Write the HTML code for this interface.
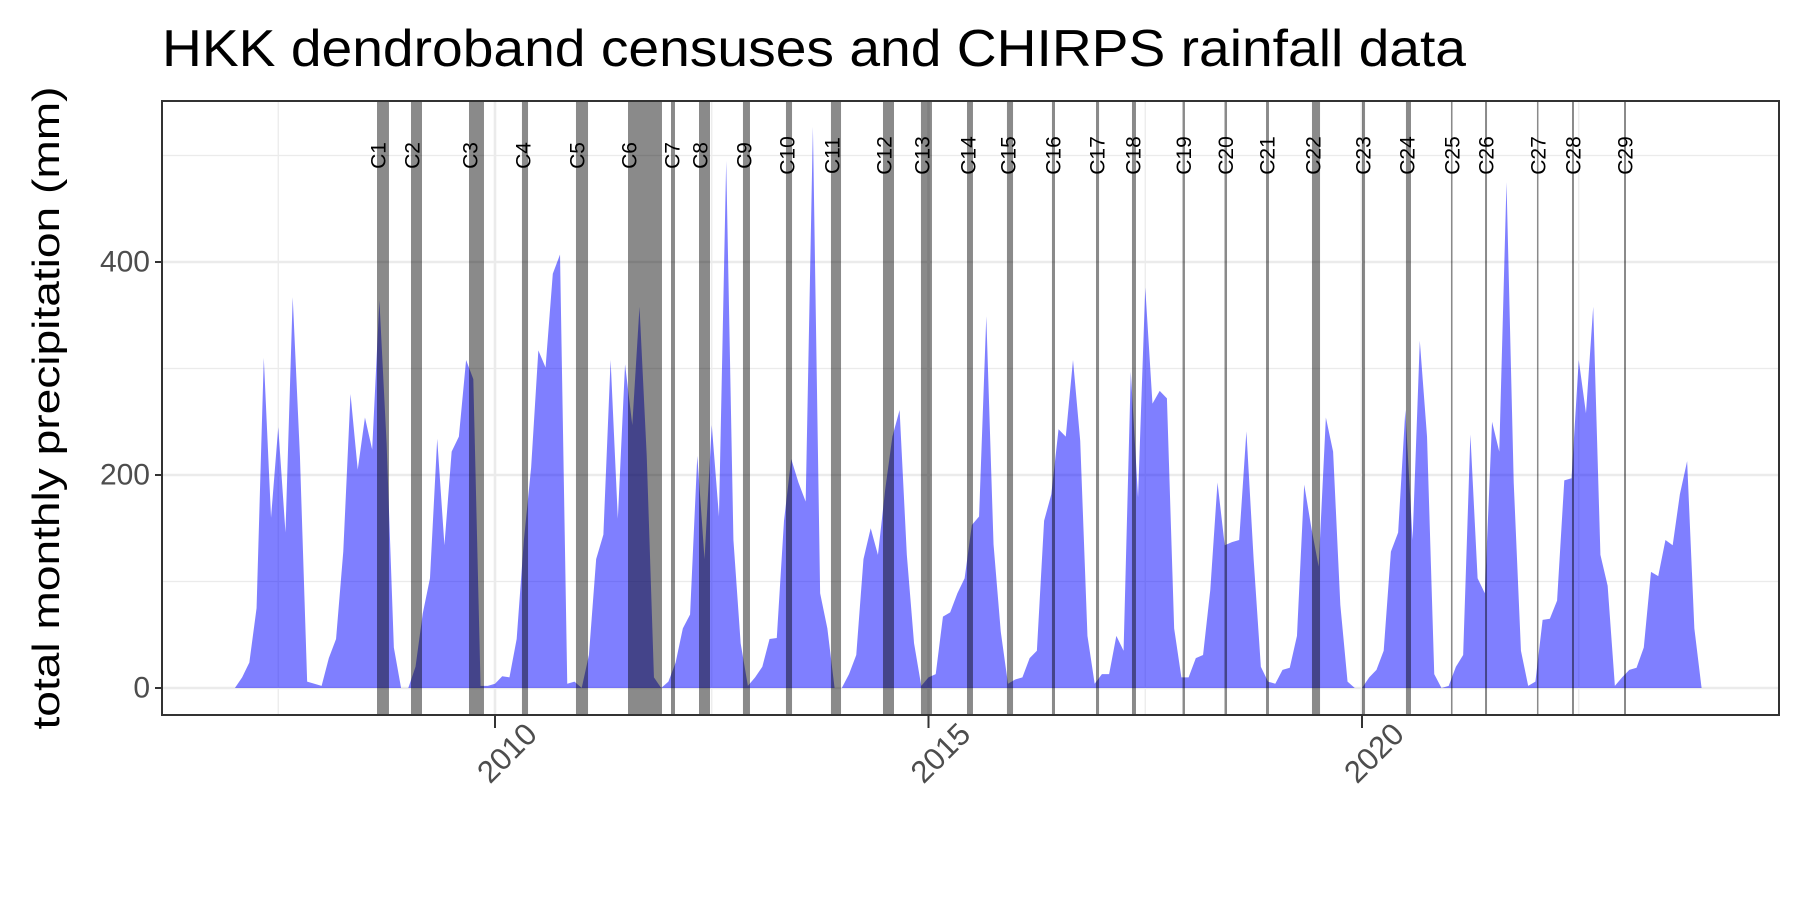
<!DOCTYPE html>
<html><head><meta charset="utf-8"><style>
html,body{margin:0;padding:0;background:#fff;}
svg{display:block;font-family:"Liberation Sans",Arial,sans-serif;}
</style></head><body>
<svg id="chart" width="1800" height="900" viewBox="0 0 1800 900">
<text x="162" y="66" font-size="52" textLength="1304" lengthAdjust="spacingAndGlyphs" fill="#000">HKK dendroband censuses and CHIRPS rainfall data</text>
<text transform="translate(59,408) rotate(-90)" text-anchor="middle" font-size="38" textLength="643" lengthAdjust="spacingAndGlyphs" fill="#000">total monthly precipitation (mm)</text>
<g id="grid"></g>
<g id="area"></g>
<g id="bars"></g>
<g id="labels"></g>
<rect x="162" y="101" width="1617" height="614" fill="none" stroke="#333" stroke-width="2"/>
<g id="axes"></g>
</svg>
<script>
const startYear = 2007;
const rainfall = [0,10,24,75,310,160,245,146,367,218,6,4,
2,28,46,128,276,205,254,224,364,229,38,0,
0,20,70,103,234,134,222,236,308,290,2,2,
4,11,10,46,139,207,317,301,389,407,4,6,
0,31,121,144,308,159,304,247,358,218,10,0,
6,24,56,69,218,121,247,161,495,139,42,2,
10,20,46,47,157,215,193,175,527,89,56,0,
0,13,31,121,150,125,186,236,261,125,42,2,
10,13,67,71,89,103,153,161,349,135,53,4,
8,10,28,35,157,182,243,236,308,232,49,4,
13,13,49,35,297,179,376,267,279,272,56,10,
10,28,31,92,193,134,137,139,241,121,20,6,
4,17,19,49,191,150,114,254,222,78,6,0,
0,10,17,35,128,146,261,139,326,236,13,0,
2,20,31,238,103,89,250,222,475,193,35,2,
6,64,65,82,195,197,308,258,358,125,96,2,
10,17,19,38,109,105,139,134,182,213,56,0];
const censusNames = ["C1","C2","C3","C4","C5","C6","C7","C8","C9","C10","C11","C12","C13","C14","C15","C16","C17","C18","C19","C20","C21","C22","C23","C24","C25","C26","C27","C28","C29"];
const censusStart = [2008.639,2009.031,2009.700,2010.311,2010.934,2011.534,2012.030,2012.353,2012.860,2013.356,2013.875,2014.475,2014.913,2015.444,2015.905,2016.424,2016.932,2017.347,2017.930,2018.414,2018.893,2019.423,2020.000,2020.507,2021.026,2021.419,2022.018,2022.422,2023.022];
const censusEnd = [2008.777,2009.158,2009.873,2010.381,2011.073,2011.926,2012.076,2012.480,2012.941,2013.426,2013.991,2014.602,2015.040,2015.513,2015.975,2016.459,2016.967,2017.393,2017.958,2018.443,2018.927,2019.516,2020.035,2020.565,2021.044,2021.442,2022.030,2022.445,2023.045];
const yTicks = [0,200,400];
const yMinor = [100,300,500];
const xTicks = [2010,2015,2020];
const xMinor = [2007.5,2012.5,2017.5,2022.5];
const labelValue = 500;

const NS="http://www.w3.org/2000/svg";
function X(t){return 495+(t-2010)*86.7;}
function Y(v){return 688-v*1.065;}
function mk(tag,parent,attrs){const e=document.createElementNS(NS,tag);for(const k in attrs)e.setAttribute(k,attrs[k]);parent.appendChild(e);return e;}
const grid=document.getElementById('grid');
yMinor.forEach(v=>{const l=mk('line',grid,{x1:162,x2:1779,y1:Y(v),y2:Y(v),stroke:'#ebebeb','stroke-width':1.3});

});
xMinor.forEach(t=>{const l=mk('line',grid,{x1:X(t),x2:X(t),y1:101,y2:715,stroke:'#ebebeb','stroke-width':1.3});

});
yTicks.forEach(v=>{const l=mk('line',grid,{x1:162,x2:1779,y1:Y(v),y2:Y(v),stroke:'#ebebeb','stroke-width':2.6});

});
xTicks.forEach(t=>{const l=mk('line',grid,{x1:X(t),x2:X(t),y1:101,y2:715,stroke:'#ebebeb','stroke-width':2.6});

});

const area=document.getElementById('area');
let d='M'+X(startYear)+','+Y(0);
rainfall.forEach((v,i)=>{d+=' L'+X(startYear+i/12).toFixed(2)+','+Y(v).toFixed(2);});
d+=' L'+X(startYear+(rainfall.length-1)/12).toFixed(2)+','+Y(0)+' Z';
const p=mk('path',area,{d:d,fill:'#0000ff','fill-opacity':0.5});



const bars=document.getElementById('bars');
const labels=document.getElementById('labels');
censusNames.forEach((n,i)=>{
 const x0=X(censusStart[i]),x1=X(censusEnd[i]);
 const r=mk('rect',bars,{x:x0,y:101,width:Math.max(1.5,x1-x0),height:614,fill:'#000','fill-opacity':0.46});
 
 
 const t=mk('text',labels,{transform:'translate('+(x0+2)+','+Y(labelValue)+') rotate(-90)','text-anchor':'middle','dominant-baseline':'central','font-size':21,fill:'#000'});
 t.textContent=n;
 
 
});

const axes=document.getElementById('axes');
yTicks.forEach(v=>{
 const l=mk('line',axes,{x1:155,x2:162,y1:Y(v),y2:Y(v),stroke:'#333','stroke-width':2});
 
 
 const t=mk('text',axes,{x:150,y:Y(v),'text-anchor':'end','dominant-baseline':'central','font-size':30,fill:'#4d4d4d'});
 t.textContent=v;
 
 
});
xTicks.forEach(tk=>{
 const x=X(tk);
 const l=mk('line',axes,{x1:x,x2:x,y1:715,y2:728,stroke:'#333','stroke-width':2});
 
 
 const t=mk('text',axes,{transform:'translate('+(x+12)+',753) rotate(-45)','text-anchor':'middle','dominant-baseline':'central','font-size':31,fill:'#4d4d4d'});
 t.textContent=tk;
 
 
});
</script>
</body></html>
